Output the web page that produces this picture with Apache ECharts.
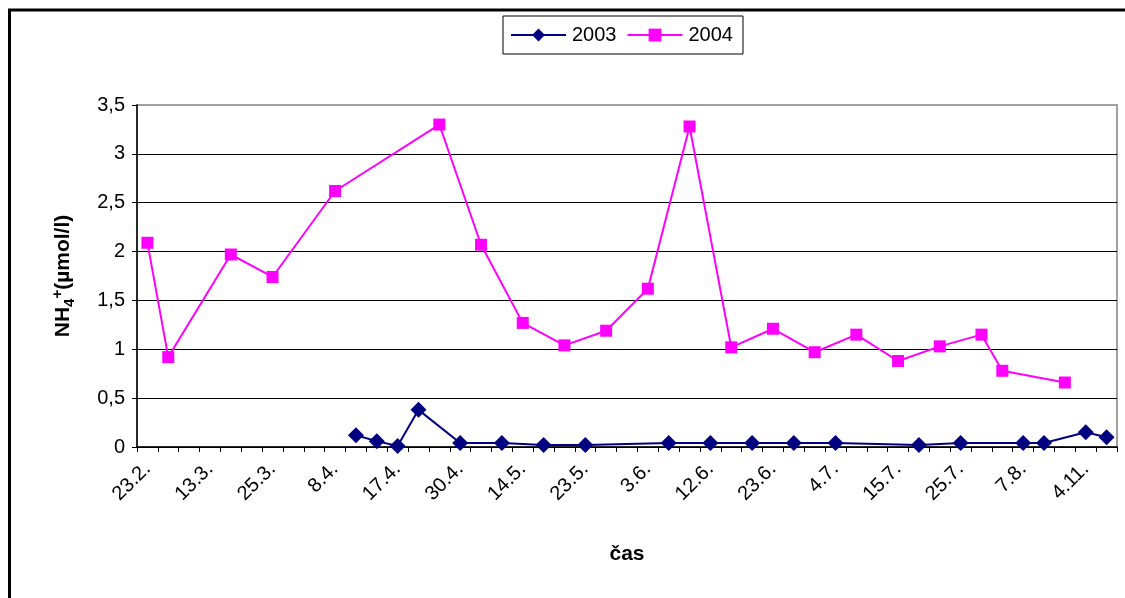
<!DOCTYPE html>
<html>
<head>
<meta charset="utf-8">
<script src="https://cdn.jsdelivr.net/npm/echarts@6/dist/echarts.min.js"></script>
<style>
  html, body { margin: 0; padding: 0; background: #fff; }
  #chart { width: 1125px; height: 598px; }
</style>
</head>
<body>
<div id="chart"></div>
<script>
// Sampling dates (only every third one is printed on the axis)
const categories = [
  '23.2.', '', '', '13.3.', '', '', '25.3.', '', '', '8.4.', '', '',
  '17.4.', '', '', '30.4.', '', '', '14.5.', '', '', '23.5.', '', '',
  '3.6.', '', '', '12.6.', '', '', '23.6.', '', '', '4.7.', '', '',
  '15.7.', '', '', '25.7.', '', '', '7.8.', '', '', '4.11.', ''
];

// NH4+ concentrations (µmol/l); null = no sample on that date
const series2003 = [
  null, null, null, null, null, null, null, null, null, null, 0.12, 0.06,
  0.01, 0.38, null, 0.04, null, 0.04, null, 0.02, null, 0.02, null, null,
  null, 0.04, null, 0.04, null, 0.04, null, 0.04, null, 0.04, null, null,
  null, 0.02, null, 0.04, null, null, 0.04, 0.04, null, 0.15, 0.10
];
const series2004 = [
  2.09, 0.92, null, null, 1.97, null, 1.74, null, null, 2.62, null, null,
  null, null, 3.30, null, 2.07, null, 1.27, null, 1.04, null, 1.19, null,
  1.62, null, 3.28, null, 1.02, null, 1.21, null, 0.97, null, 1.15, null,
  0.88, null, 1.03, null, 1.15, 0.78, null, null, 0.66, null, null
];

const yTicks = { min: 0, max: 3.5, interval: 0.5 };

const FONT = 'Liberation Sans, Arial, sans-serif';

const chart = echarts.init(document.getElementById('chart'), null, { renderer: 'canvas' });

chart.setOption({
  animation: false,
  backgroundColor: '#fff',
  textStyle: { fontFamily: FONT, color: '#000' },
  graphic: [{
    type: 'rect',
    silent: true,
    z: -10,
    shape: { x: 9.5, y: 10, width: 1300, height: 800 },
    style: { fill: 'none', stroke: '#000', lineWidth: 3 }
  }],
  legend: {
    left: 503,
    top: 16,
    orient: 'horizontal',
    padding: [9, 10, 9, 7],
    itemGap: 10,
    itemWidth: 55,
    itemHeight: 16,
    borderColor: '#000',
    borderWidth: 1,
    textStyle: { fontFamily: FONT, fontSize: 20, color: '#000', padding: [0, 0, 0, 1] },
    data: ['2003', '2004']
  },
  grid: {
    left: 137,
    right: 8,
    top: 105,
    bottom: 151,
    show: true,
    borderColor: '#a0a0a0',
    borderWidth: 2,
    backgroundColor: 'transparent'
  },
  xAxis: {
    type: 'category',
    data: categories,
    boundaryGap: true,
    name: 'čas',
    nameLocation: 'middle',
    nameGap: 97,
    nameTextStyle: { fontFamily: FONT, fontSize: 21, fontWeight: 'bold', color: '#000' },
    axisLine: { show: true, lineStyle: { color: '#000', width: 1.5 } },
    axisTick: { show: true, interval: 0, length: 5, inside: false, alignWithLabel: false, lineStyle: { color: '#000' } },
    axisLabel: {
      interval: 2,
      rotate: 45,
      margin: 19,
      fontFamily: FONT,
      fontSize: 20,
      color: '#000'
    },
    splitLine: { show: false }
  },
  yAxis: {
    type: 'value',
    min: yTicks.min,
    max: yTicks.max,
    interval: yTicks.interval,
    name: '{b|NH}{sub|4}{sup|+}{b|(µmol/l)}',
    nameLocation: 'middle',
    nameRotate: 90,
    nameGap: 60,
    nameTextStyle: {
      rich: {
        b: { fontFamily: FONT, fontSize: 21, fontWeight: 'bold', color: '#000', lineHeight: 27 },
        sub: { fontFamily: FONT, fontSize: 15, fontWeight: 'bold', color: '#000', lineHeight: 15, verticalAlign: 'bottom' },
        sup: { fontFamily: FONT, fontSize: 15, fontWeight: 'bold', color: '#000', lineHeight: 15, verticalAlign: 'top' }
      }
    },
    axisLine: { show: true, lineStyle: { color: '#000', width: 1.5 } },
    axisTick: { show: true, length: 5, inside: false, lineStyle: { color: '#000' } },
    axisLabel: {
      margin: 12,
      fontFamily: FONT,
      fontSize: 20,
      color: '#000',
      formatter: v => String(v).replace('.', ',')
    },
    splitLine: { show: true, showMaxLine: false, lineStyle: { color: '#000', width: 1 } }
  },
  series: [
    {
      name: '2003',
      type: 'line',
      data: series2003,
      connectNulls: true,
      showAllSymbol: true,
      symbol: 'diamond',
      symbolSize: 16,
      itemStyle: { color: '#000080' },
      lineStyle: { color: '#000080', width: 2 },
      z: 3
    },
    {
      name: '2004',
      type: 'line',
      data: series2004,
      connectNulls: true,
      showAllSymbol: true,
      symbol: 'rect',
      symbolSize: 12,
      itemStyle: { color: '#ff00ff' },
      lineStyle: { color: '#ff00ff', width: 2 },
      z: 2
    }
  ]
});
</script>
</body>
</html>
